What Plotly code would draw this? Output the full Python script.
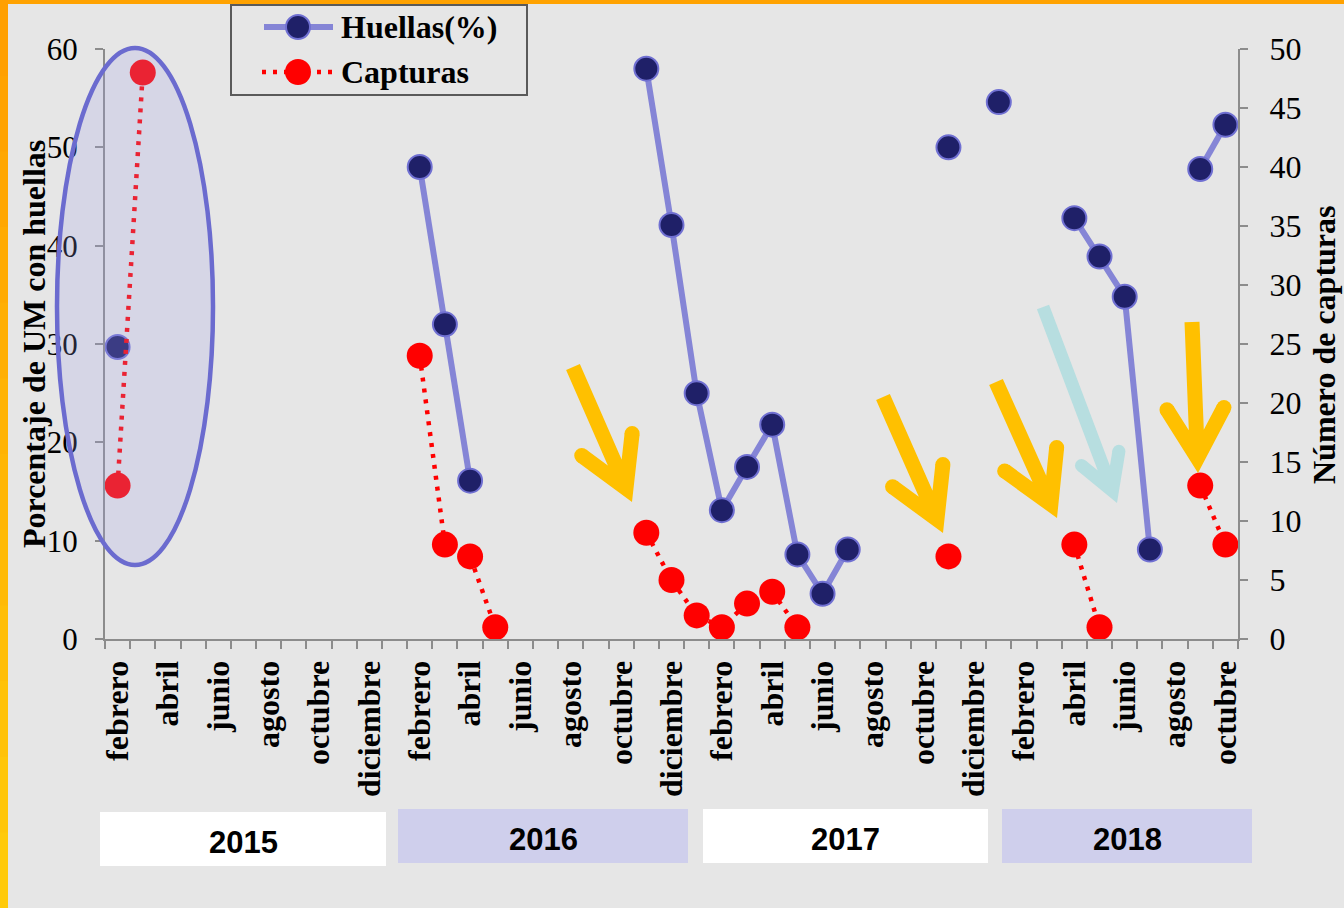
import math
import plotly.graph_objects as go

# ---------------- data ----------------
meses = [
    "febrero 2015", "marzo 2015", "abril 2015", "mayo 2015", "junio 2015", "julio 2015",
    "agosto 2015", "septiembre 2015", "octubre 2015", "noviembre 2015", "diciembre 2015",
    "enero 2016", "febrero 2016", "marzo 2016", "abril 2016", "mayo 2016", "junio 2016",
    "julio 2016", "agosto 2016", "septiembre 2016", "octubre 2016", "noviembre 2016",
    "diciembre 2016", "enero 2017", "febrero 2017", "marzo 2017", "abril 2017", "mayo 2017",
    "junio 2017", "julio 2017", "agosto 2017", "septiembre 2017", "octubre 2017",
    "noviembre 2017", "diciembre 2017", "enero 2018", "febrero 2018", "marzo 2018",
    "abril 2018", "mayo 2018", "junio 2018", "julio 2018", "agosto 2018",
    "septiembre 2018", "octubre 2018",
]

huellas = [
    29.7, None, None, None, None, None, None, None, None, None, None,
    None, 48.0, 32.0, 16.1, None, None, None, None, None, None, 58.0,
    42.1, 25.0, 13.1, 17.5, 21.8, 8.6, 4.6, 9.1, None, None, None,
    50.0, None, 54.6, None, None, 42.8, 38.9, 34.8, 9.1, None,
    47.8, 52.3,
]

capturas = [
    13, 48, None, None, None, None, None, None, None, None, None,
    None, 24, 8, 7, 1, None, None, None, None, None, 9,
    5, 2, 1, 3, 4, 1, None, None, None, None, None,
    7, None, None, None, None, 8, 1, None, None, None,
    13, 8,
]

series_names = ["Huellas(%)", "Capturas"]
anios = ["2015", "2016", "2017", "2018"]

# tick labels: month name every other month
ticktext = [m.split()[0] if i % 2 == 0 else "" for i, m in enumerate(meses)]

# ---------------- geometry helpers (decorations only) ----------------
W, H = 1344, 908
L, R, T, B = 105, 106, 49, 269
PW, PH = W - L - R, H - T - B


def px(x):
    return (x - L) / PW


def py(y):
    return (H - B - y) / PH


SERIF = "Liberation Serif"
SANS = "Liberation Sans"
AXIS = "#8C8C8C"
C_HL, C_HM, C_HB = "#8585D6", "#1F2068", "#7070D2"
C_CAP = "#FF0000"

fig = go.Figure()

fig.add_trace(go.Scatter(
    x=meses, y=huellas, name=series_names[0], mode="lines+markers",
    line=dict(color=C_HL, width=6),
    marker=dict(size=24, color=C_HM, line=dict(color=C_HB, width=2)),
    connectgaps=False, cliponaxis=False, showlegend=False,
))
fig.add_trace(go.Scatter(
    x=meses, y=capturas, name=series_names[1], mode="lines+markers", yaxis="y2",
    line=dict(color=C_CAP, width=4.5, dash="4px,7px"),
    marker=dict(size=26, color=C_CAP),
    connectgaps=False, cliponaxis=False, showlegend=False,
))

shapes = []
annotations = []

# orange frame (top and left)
shapes.append(dict(type="rect", xref="paper", yref="paper", x0=px(0), x1=px(W), y0=py(0), y1=py(4),
                   fillcolor="#FFA200", line=dict(width=0), layer="below"))
n = 12
for k in range(n):
    t = k / (n - 1)
    r, g, b = 255, int(160 + t * 42), int(0 + t * 10)
    shapes.append(dict(type="rect", xref="paper", yref="paper", x0=px(0), x1=px(8),
                       y0=py(H * k / n), y1=py(H * (k + 1) / n + 1),
                       fillcolor=f"rgb({r},{g},{b})", line=dict(width=0), layer="below"))

# year boxes
year_boxes = [(100, 812, 386, 866, "#FFFFFF"), (398, 809, 688, 863, "#CFCFEC"),
              (703, 809, 988, 863, "#FFFFFF"), (1002, 809, 1252, 863, "#CFCFEC")]
for (x0, y0, x1, y1, c), label in zip(year_boxes, anios):
    shapes.append(dict(type="rect", xref="paper", yref="paper", x0=px(x0), x1=px(x1),
                       y0=py(y1), y1=py(y0), fillcolor=c, line=dict(width=0), layer="below"))
    annotations.append(dict(xref="paper", yref="paper", x=px((x0 + x1) / 2), y=py((y0 + y1) / 2 + 3),
                            text=label, showarrow=False, xanchor="center", yanchor="middle",
                            font=dict(family=SANS, size=31, color="black", weight="bold")))

# ellipse around 2015
shapes.append(dict(type="circle", xref="paper", yref="paper", x0=px(57), x1=px(213),
                   y0=py(565), y1=py(48), fillcolor="rgba(160,160,230,0.22)",
                   line=dict(color="#6B6BCF", width=4.5), layer="above"))


def circle(cx, cy, r, fill, lc=None, lw=0):
    shapes.append(dict(type="circle", xref="paper", yref="paper",
                       x0=px(cx - r), x1=px(cx + r), y0=py(cy + r), y1=py(cy - r),
                       fillcolor=fill, line=dict(color=lc or fill, width=lw), layer="above"))


# arrows
def arrow(tail, tip, color, width, wing, half=30):
    dx, dy = tip[0] - tail[0], tip[1] - tail[1]
    ln = math.hypot(dx, dy)
    ux, uy = dx / ln, dy / ln
    off = (width / 2) / math.sin(math.radians(half))
    vx, vy = tip[0] - ux * off, tip[1] - uy * off
    ends = []
    for s in (1, -1):
        a = math.radians(half * s)
        bx, by = -ux, -uy
        rx = bx * math.cos(a) - by * math.sin(a)
        ry = bx * math.sin(a) + by * math.cos(a)
        ends.append((vx + wing * rx, vy + wing * ry))
    path = (f"M {px(tail[0])},{py(tail[1])} L {px(vx)},{py(vy)} "
            f"M {px(ends[0][0])},{py(ends[0][1])} L {px(vx)},{py(vy)} L {px(ends[1][0])},{py(ends[1][1])}")
    shapes.append(dict(type="path", xref="paper", yref="paper", path=path,
                       line=dict(color=color, width=width), layer="above"))
    for ex, ey in ends:
        circle(ex, ey, width / 2, color)


YEL = "#FFC000"
BLU = "#B7DEE0"
arrow((573, 367), (632, 502), YEL, 15, 55)
arrow((883, 397), (943, 533), YEL, 15, 55)
arrow((996, 382), (1057, 518), YEL, 15, 57)
arrow((1043, 307), (1117, 503), BLU, 13, 40)
arrow((1192, 322), (1198, 473), YEL, 15, 57)

# legend (drawn box with line/marker samples)
shapes.append(dict(type="rect", xref="paper", yref="paper", x0=px(231), x1=px(527), y0=py(95), y1=py(5),
                   line=dict(color="#5A5A5A", width=2), fillcolor="rgba(0,0,0,0)", layer="above"))
shapes.append(dict(type="line", xref="paper", yref="paper", x0=px(264), x1=px(333), y0=py(27), y1=py(27),
                   line=dict(color=C_HL, width=6), layer="above"))
circle(298, 27, 12, C_HM, C_HB, 2)
shapes.append(dict(type="line", xref="paper", yref="paper", x0=px(262), x1=px(332), y0=py(72), y1=py(72),
                   line=dict(color=C_CAP, width=4.5, dash="4px,7px"), layer="above"))
circle(298, 72, 13, C_CAP)
for name, yy in zip(series_names, (27, 72)):
    annotations.append(dict(xref="paper", yref="paper", x=px(339), y=py(yy), text=name,
                            showarrow=False, xanchor="left", yanchor="middle",
                            font=dict(family=SERIF, size=32, color="black", weight="bold")))

# axis titles
annotations.append(dict(xref="paper", yref="paper", x=px(34), y=py(344), text="Porcentaje de UM con huellas",
                        textangle=-90, showarrow=False, xanchor="center", yanchor="middle",
                        font=dict(family=SERIF, size=32, color="black", weight="bold")))
annotations.append(dict(xref="paper", yref="paper", x=px(1324), y=py(345), text="Número de capturas",
                        textangle=-90, showarrow=False, xanchor="center", yanchor="middle",
                        font=dict(family=SERIF, size=32, color="black", weight="bold")))

fig.update_layout(
    width=W, height=H,
    margin=dict(l=L, r=R, t=T, b=B, pad=0, autoexpand=False),
    paper_bgcolor="#E6E6E6", plot_bgcolor="#E6E6E6",
    showlegend=False,
    xaxis=dict(type="category", categoryorder="array", categoryarray=meses,
               range=[-0.5, len(meses) - 0.5], tickmode="array", tickvals=meses, ticktext=ticktext,
               tickson="boundaries", ticks="outside", ticklen=8, tickwidth=2, tickcolor=AXIS,
               showline=True, linecolor=AXIS, linewidth=2, showgrid=False, zeroline=False,
               tickangle=-90, ticklabelstandoff=7, automargin=False,
               tickfont=dict(family=SERIF, size=32, color="black", weight="bold")),
    yaxis=dict(range=[0, 60], tickmode="linear", tick0=0, dtick=10, ticks="outside", ticklen=8,
               tickwidth=2, tickcolor=AXIS, showline=True, linecolor=AXIS, linewidth=2,
               showgrid=False, zeroline=False, ticklabelstandoff=11, automargin=False,
               tickfont=dict(family=SERIF, size=31, color="black")),
    yaxis2=dict(range=[0, 50], tickmode="linear", tick0=0, dtick=5, overlaying="y", side="right",
                ticks="outside", ticklen=8, tickwidth=2, tickcolor=AXIS, showline=True,
                linecolor=AXIS, linewidth=2, showgrid=False, zeroline=False, ticklabelstandoff=15,
                automargin=False, tickfont=dict(family=SERIF, size=32, color="black")),
    shapes=shapes,
    annotations=annotations,
)

fig.write_html("out.html", config={"displayModeBar": False},
               post_script="document.body.style.margin='0';document.body.style.overflow='hidden';")
